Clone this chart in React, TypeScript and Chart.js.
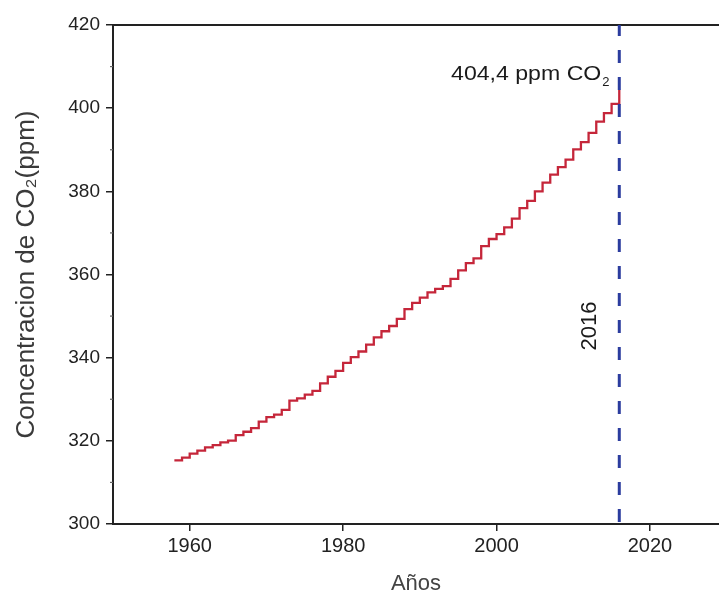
import React, { useEffect, useRef } from 'react';
import { Chart, registerables } from 'chart.js';

Chart.register(...registerables);

const years = [
  1958, 1959, 1960, 1961, 1962, 1963, 1964, 1965, 1966, 1967,
  1968, 1969, 1970, 1971, 1972, 1973, 1974, 1975, 1976, 1977,
  1978, 1979, 1980, 1981, 1982, 1983, 1984, 1985, 1986, 1987,
  1988, 1989, 1990, 1991, 1992, 1993, 1994, 1995, 1996, 1997,
  1998, 1999, 2000, 2001, 2002, 2003, 2004, 2005, 2006, 2007,
  2008, 2009, 2010, 2011, 2012, 2013, 2014, 2015, 2016,
];

const co2 = [
  315.3, 315.98, 316.91, 317.64, 318.45, 318.99, 319.62, 320.04, 321.37, 322.18,
  323.05, 324.62, 325.68, 326.32, 327.46, 329.68, 330.19, 331.13, 332.03, 333.84,
  335.41, 336.84, 338.76, 340.12, 341.48, 343.15, 344.87, 346.35, 347.61, 349.31,
  351.69, 353.2, 354.45, 355.7, 356.54, 357.21, 358.96, 360.97, 362.74, 363.88,
  366.84, 368.54, 369.71, 371.32, 373.45, 375.98, 377.7, 379.98, 382.09, 384.02,
  385.83, 387.64, 390.1, 391.85, 394.06, 396.74, 398.81, 401.01, 404.41,
];

const xTicks = [1960, 1980, 2000, 2020];
const yTicks = [300, 320, 340, 360, 380, 400, 420];
const yMinorTicks = [310, 330, 350, 370, 390, 410];
const markerYear = 2016;
const markerLabel = '2016';
const annotationMain = '404,4 ppm CO';
const annotationSub = '2';
const xTitle = 'Años';
const yTitle = 'Concentracion de CO₂(ppm)';

const FONT = '"Liberation Sans", Arial, Helvetica, sans-serif';

const overlay = {
  id: 'overlay',
  afterDatasetsDraw(chart: any) {
    const { ctx, chartArea: ca, scales } = chart;
    const x = scales.x.getPixelForValue(markerYear);
    ctx.save();
    // top frame line
    ctx.strokeStyle = '#222';
    ctx.lineWidth = 2;
    ctx.beginPath();
    ctx.moveTo(ca.left - 1, ca.top);
    ctx.lineTo(ca.right, ca.top);
    ctx.stroke();
    // minor ticks on y axis
    ctx.lineWidth = 1.2;
    ctx.strokeStyle = '#666';
    for (const v of yMinorTicks) {
      const y = scales.y.getPixelForValue(v);
      ctx.beginPath();
      ctx.moveTo(ca.left - 3, y);
      ctx.lineTo(ca.left, y);
      ctx.stroke();
    }
    // dashed marker line
    ctx.strokeStyle = '#2b3c9e';
    ctx.lineWidth = 3;
    ctx.setLineDash([13, 14]);
    ctx.lineDashOffset = 2;
    ctx.beginPath();
    ctx.moveTo(x, ca.top);
    ctx.lineTo(x, ca.bottom + 1);
    ctx.stroke();
    ctx.setLineDash([]);
    // annotation text (slightly widened like the original)
    ctx.fillStyle = '#1a1a1a';
    ctx.textBaseline = 'alphabetic';
    ctx.save();
    ctx.translate(x - 18, ca.top + 55);
    ctx.scale(1.1, 1);
    ctx.textAlign = 'right';
    ctx.font = `21px ${FONT}`;
    ctx.fillText(annotationMain, 0, 0);
    ctx.restore();
    ctx.textAlign = 'left';
    ctx.font = `13px ${FONT}`;
    ctx.fillText(annotationSub, x - 17, ca.top + 61);
    // rotated year label
    ctx.save();
    ctx.translate(x - 29, ca.top + 301);
    ctx.rotate(-Math.PI / 2);
    ctx.textAlign = 'center';
    ctx.textBaseline = 'middle';
    ctx.font = `22px ${FONT}`;
    ctx.fillText(markerLabel, 0, 0);
    ctx.restore();
    ctx.restore();
  },
};

export default function App() {
  const ref = useRef<HTMLCanvasElement>(null);

  useEffect(() => {
    const canvas = ref.current;
    if (!canvas) return;
    const chart = new Chart(canvas, {
      type: 'line',
      data: {
        datasets: [
          {
            data: years.map((yr, i) => ({ x: yr, y: co2[i] })),
            borderColor: '#c5263a',
            borderWidth: 2.3,
            stepped: 'before',
            pointRadius: 0,
            fill: false,
          },
        ],
      },
      options: {
        animation: false,
        responsive: false,
        devicePixelRatio: 1,
        layout: { padding: { top: 25, right: 0, bottom: 0, left: 0 } },
        plugins: { legend: { display: false }, tooltip: { enabled: false } },
        scales: {
          x: {
            type: 'linear',
            min: 1950,
            max: 2029,
            afterBuildTicks: (s: any) => {
              s.ticks = xTicks.map((v) => ({ value: v }));
            },
            ticks: {
              font: { family: FONT, size: 20 },
              color: '#222',
              padding: 3,
              maxRotation: 0,
              autoSkip: false,
              callback: (v: any) => String(v),
            },
            grid: {
              drawOnChartArea: false,
              drawTicks: true,
              tickLength: 7,
              color: '#222',
              lineWidth: 1.5,
            },
            border: { display: true, color: '#222', width: 2 },
            title: {
              display: true,
              text: xTitle,
              font: { family: FONT, size: 22 },
              color: '#444',
              padding: { top: 0, bottom: 0 },
            },
            afterFit: (s: any) => {
              s.height = 73;
            },
          },
          y: {
            type: 'linear',
            min: 300,
            max: 420,
            afterBuildTicks: (s: any) => {
              s.ticks = yTicks.map((v) => ({ value: v }));
            },
            ticks: {
              font: { family: FONT, size: 19 },
              color: '#222',
              padding: 6,
            },
            grid: {
              drawOnChartArea: false,
              drawTicks: true,
              tickLength: 7,
              color: '#222',
              lineWidth: 1.5,
            },
            border: { display: true, color: '#222', width: 2 },
            title: {
              display: true,
              text: yTitle,
              font: { family: FONT, size: 26 },
              color: '#3a3a3a',
              padding: { top: 11.4, bottom: 0 },
            },
            afterFit: (s: any) => {
              s.width = 113;
            },
          },
        },
      },
      plugins: [overlay],
    } as any);
    return () => chart.destroy();
  }, []);

  return (
    <div
      style={{
        position: 'fixed',
        left: 0,
        top: 0,
        width: 719,
        height: 597,
        background: '#fff',
        overflow: 'hidden',
      }}
    >
      <canvas ref={ref} width={719} height={597} style={{ display: 'block' }} />
    </div>
  );
}
